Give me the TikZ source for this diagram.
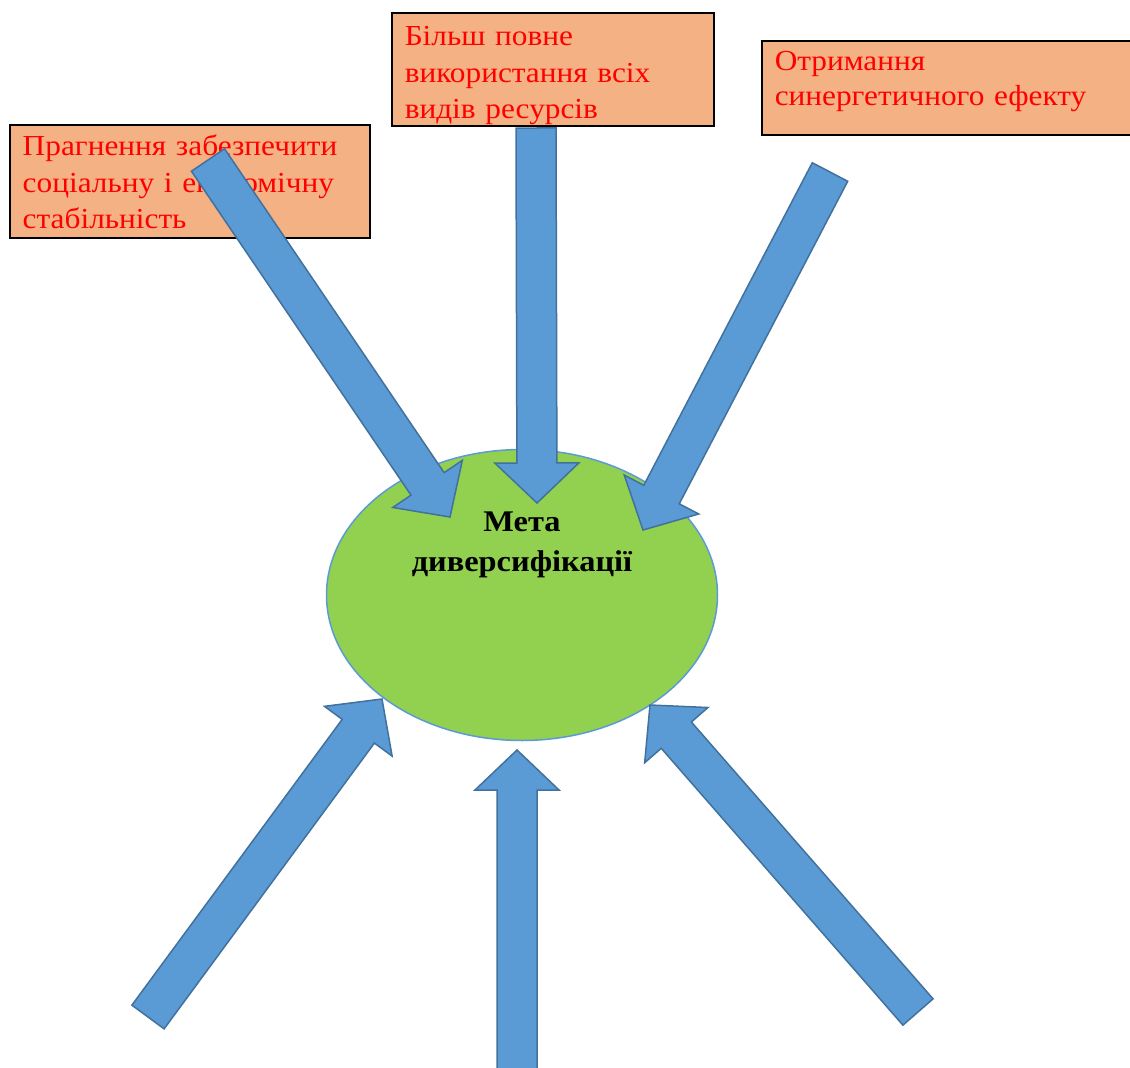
\documentclass[tikz,border=0pt]{standalone}
\usepackage{fontspec}
\setmainfont[FakeStretch=1.08]{Liberation Serif}
\usetikzlibrary{calc,shapes.geometric}
\definecolor{boxfill}{HTML}{F4B183}
\definecolor{goalfill}{HTML}{92D050}
\definecolor{arrowfill}{HTML}{5B9BD5}
\definecolor{arrowedge}{HTML}{41719C}
\newcommand\Lift[1]{\rule{0pt}{#1pt}}
\newcommand\Drop[1]{\rule[-#1pt]{0pt}{#1pt}}
\newcommand\BlockArrow[3]{%
    \coordinate (#3Neck) at ($(#2)!40pt!(#1)$);
    \draw[blockarrow] ($(#1)!20pt!90:(#2)$) -- ($(#3Neck)!20pt!90:(#2)$) -- ($(#3Neck)!42pt!90:(#2)$) -- (#2)
        -- ($(#3Neck)!42pt!-90:(#2)$) -- ($(#3Neck)!20pt!-90:(#2)$) -- ($(#1)!20pt!-90:(#2)$) -- cycle;
}

\begin{document}
\begin{tikzpicture}[x=1pt,y=-1pt,
    reason/.style={draw=black,line width=1.5pt,fill=boxfill,text=red,anchor=north west,
        align=left,inner xsep=13pt,inner ysep=0pt,font=\fontsize{29}{36.5}\selectfont},
    goal/.style={ellipse,draw=arrowfill,line width=1.5pt,fill=goalfill,minimum width=391pt,
        minimum height=291pt,align=center,font=\bfseries\fontsize{30}{40}\selectfont},
    blockarrow/.style={fill=arrowfill,draw=arrowedge,line width=1.5pt,line join=miter}]
    \clip (0,0) rectangle (1130,1068);
    \node[reason,minimum width=360pt,minimum height=113pt,text width=334pt] (Stability) at (9,124)
        {\Lift{31}Прагнення забезпечити\\соціальну і економічну\\стабільність\Drop{9}};
    \node[reason,minimum width=322pt,minimum height=112pt,text width=296pt] (Resources) at (391,12)
        {\Lift{33}Більш повне\\використання всіх\\видів ресурсів\Drop{7}};
    \node[reason,minimum width=380pt,minimum height=94pt,text width=354pt,
        font=\fontsize{29}{35}\selectfont] (Synergy) at (761,40)
        {\Lift{30}Отримання\\синергетичного ефекту\Drop{29}};
    \node[goal] (Goal) at (522,595) {Мета\\диверсифікації\\[66pt]\mbox{}};
    \coordinate (TailA) at (208,160);
    \coordinate (TipA) at (450,517);
    \coordinate (TailB) at (536,128);
    \coordinate (TipB) at (537,503);
    \coordinate (TailC) at (830,172);
    \coordinate (TipC) at (643,530);
    \coordinate (TailD) at (148,1017);
    \coordinate (TipD) at (382,699);
    \coordinate (TailE) at (517,1080);
    \coordinate (TipE) at (517,750);
    \coordinate (TailF) at (918,1012);
    \coordinate (TipF) at (650,705);
    \BlockArrow{TailA}{TipA}{A}
    \BlockArrow{TailB}{TipB}{B}
    \BlockArrow{TailC}{TipC}{C}
    \BlockArrow{TailD}{TipD}{D}
    \BlockArrow{TailE}{TipE}{E}
    \BlockArrow{TailF}{TipF}{F}
\end{tikzpicture}
\end{document}
